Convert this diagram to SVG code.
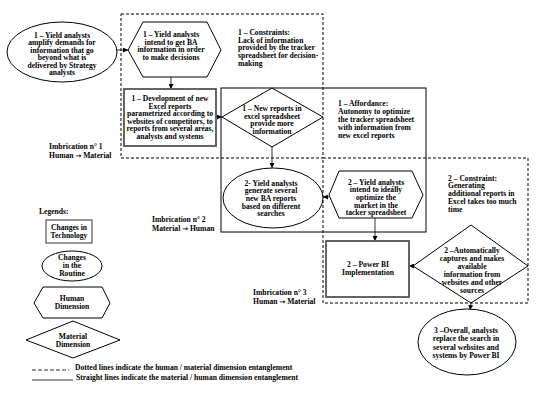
<svg xmlns="http://www.w3.org/2000/svg" width="550" height="402" viewBox="0 0 550 402">
<defs>
<style>
text{font-family:"Liberation Serif","Times New Roman",serif;font-weight:bold;font-size:7.6px;fill:#000}
.c{text-anchor:middle}
.ar{font-family:"DejaVu Sans",sans-serif;font-size:7px}
.s{fill:#fff;stroke:#000;stroke-width:1}
.d{fill:none;stroke:#000;stroke-width:1;stroke-dasharray:3,2}
.r{fill:#fff;stroke:#555;stroke-width:1.8}
.a{fill:none;stroke:#000;stroke-width:0.8;marker-end:url(#ah)}
</style>
<marker id="ah" viewBox="0 0 6 6" refX="6" refY="3" markerWidth="5" markerHeight="5" orient="auto" markerUnits="userSpaceOnUse">
<path d="M0,0 L6,3 L0,6 z" fill="#000"/>
</marker>
</defs>
<rect width="550" height="402" fill="#fff"/>

<g id="regions">
<rect class="d" x="121" y="14" width="202" height="144"/>
<rect class="d" x="323" y="158" width="205" height="145"/>
<rect x="221" y="88" width="205" height="144" fill="none" stroke="#000" stroke-width="1"/>
</g>

<g id="connectors">
<line class="a" x1="117" y1="50" x2="128" y2="50"/>
<line class="a" x1="171" y1="77" x2="171" y2="89"/>
<line class="a" x1="216" y1="117" x2="222" y2="117"/>
<line class="a" x1="272" y1="147" x2="272" y2="168"/>
<line class="a" x1="329" y1="197" x2="323" y2="197"/>
<line class="a" x1="375" y1="218" x2="375" y2="241"/>
<line class="a" x1="413" y1="266" x2="409" y2="266"/>
<line class="a" x1="471" y1="303" x2="470" y2="310"/>
</g>

<g id="n1">
<ellipse class="s" cx="62" cy="52" rx="55" ry="30"/>
<text class="c" x="62" y="37.5">1 – Yield analysts</text>
<text class="c" x="62" y="45">amplify demands for</text>
<text class="c" x="62" y="52.5">information that go</text>
<text class="c" x="62" y="60">beyond what is</text>
<text class="c" x="62" y="67.5">delivered by Strategy</text>
<text class="c" x="62" y="75">analysts</text>
</g>

<g id="n2">
<polygon class="s" points="128,50 143,22 207,22 221,50 207,77 143,77"/>
<text class="c" x="171" y="37">1 – Yield analysts</text>
<text class="c" x="171" y="44.5">intend to get BA</text>
<text class="c" x="171" y="52">information in order</text>
<text class="c" x="171" y="59.5">to make decisions</text>
</g>

<g id="n3">
<rect class="r" x="124" y="89" width="92" height="57"/>
<text class="c" x="170" y="101">1 – Development of new</text>
<text class="c" x="170" y="108.5">Excel reports</text>
<text class="c" x="170" y="116">parametrized according to</text>
<text class="c" x="170" y="123.5">websites of competitors, to</text>
<text class="c" x="170" y="131">reports from several areas,</text>
<text class="c" x="170" y="138.5">analysts and systems</text>
</g>

<g id="t1">
<text x="238" y="35">1 – Constraints:</text>
<text x="238" y="42.7">Lack of information</text>
<text x="238" y="50.4">provided by the tracker</text>
<text x="238" y="58.1">spreadsheet for decision-</text>
<text x="238" y="65.8">making</text>
</g>

<g id="n4">
<polygon class="s" points="222,117 272,88 323,117 272,147"/>
<text class="c" x="272" y="111">1 – New reports in</text>
<text class="c" x="272" y="118.5">excel spreadsheet</text>
<text class="c" x="272" y="126">provide more</text>
<text class="c" x="272" y="133.5">information</text>
</g>

<g id="t2">
<text x="338" y="106">1 – Affordance:</text>
<text x="338" y="114">Autonomy to optimize</text>
<text x="338" y="122">the tracker spreadsheet</text>
<text x="338" y="130">with information from</text>
<text x="338" y="138">new excel reports</text>
</g>

<g id="n5">
<ellipse class="s" cx="273" cy="198" rx="50" ry="30"/>
<text class="c" x="271" y="185.5">2- Yield analysts</text>
<text class="c" x="271" y="193.2">generate several</text>
<text class="c" x="271" y="200.9">new BA reports</text>
<text class="c" x="271" y="208.6">based on different</text>
<text class="c" x="271" y="216.3">searches</text>
</g>

<g id="n6">
<polygon class="s" points="329,195 339,171 412,171 423,195 412,218 339,218"/>
<text class="c" x="376" y="184.5">2 – Yield analysts</text>
<text class="c" x="376" y="192.2">intend to ideally</text>
<text class="c" x="376" y="199.9">optimize the</text>
<text class="c" x="376" y="207.6">market in the</text>
<text class="c" x="376" y="215.3">tacker spreadsheet</text>
</g>

<g id="t3">
<text x="448" y="180.5">2 – Constraint:</text>
<text x="448" y="188.4">Generating</text>
<text x="448" y="196.3">additional reports in</text>
<text x="448" y="204.2">Excel takes too much</text>
<text x="448" y="212.1">time</text>
</g>

<g id="n7">
<rect class="r" x="326" y="241" width="83" height="56"/>
<text class="c" x="368" y="266.5">2 –  Power BI</text>
<text class="c" x="368" y="274.5">Implementation</text>
</g>

<g id="n8">
<polygon class="s" points="413,266 471,225 528,266 471,303"/>
<text class="c" x="472" y="252.5">2 –Automatically</text>
<text class="c" x="472" y="260.5">captures and makes</text>
<text class="c" x="472" y="268.5">available</text>
<text class="c" x="472" y="276.5">information from</text>
<text class="c" x="472" y="284.5">websites and other</text>
<text class="c" x="472" y="292.5">sources</text>
</g>

<g id="n9">
<ellipse class="s" cx="467" cy="342" rx="49" ry="33"/>
<text class="c" x="466" y="332.5">3 –Overall, analysts</text>
<text class="c" x="466" y="341">replace the search in</text>
<text class="c" x="466" y="349.5">several websites and</text>
<text class="c" x="466" y="358">systems by Power BI</text>
</g>

<g id="labels">
<text x="49" y="148.5">Imbrication n° 1</text>
<text x="49" y="158">Human <tspan class="ar">→</tspan> Material</text>
<text x="152" y="221.5">Imbrication n° 2</text>
<text x="152" y="231">Material <tspan class="ar">→</tspan> Human</text>
<text x="253" y="294.5">Imbrication n° 3</text>
<text x="253" y="304">Human <tspan class="ar">→</tspan> Material</text>
</g>

<g id="legend">
<text x="39" y="213.5">Legends:</text>
<rect class="r" x="46" y="220" width="46" height="23" style="stroke-width:1.2"/>
<text class="c" x="69" y="229.5">Changes in</text>
<text class="c" x="69" y="238">Technology</text>
<ellipse class="s" cx="72" cy="266" rx="30" ry="15"/>
<text class="c" x="72" y="259.5">Changes</text>
<text class="c" x="72" y="267.5">in the</text>
<text class="c" x="72" y="275.5">Routine</text>
<polygon class="s" points="34,303 43,287 102,287 110,303 102,318 43,318"/>
<text class="c" x="72" y="300.5">Human</text>
<text class="c" x="72" y="309">Dimension</text>
<polygon class="s" points="26,340 73,321 120,340 73,358"/>
<text class="c" x="73" y="338.5">Material</text>
<text class="c" x="73" y="347">Dimension</text>
<line x1="32" y1="370" x2="69" y2="370" stroke="#000" stroke-width="0.8" stroke-dasharray="4,2"/>
<text x="75" y="369.5">Dotted lines indicate the human / material dimension entanglement</text>
<line x1="32" y1="380" x2="73" y2="380" stroke="#000" stroke-width="0.8"/>
<text x="76" y="379.5">Straight lines indicate the material / human dimension entanglement</text>
</g>
</svg>
